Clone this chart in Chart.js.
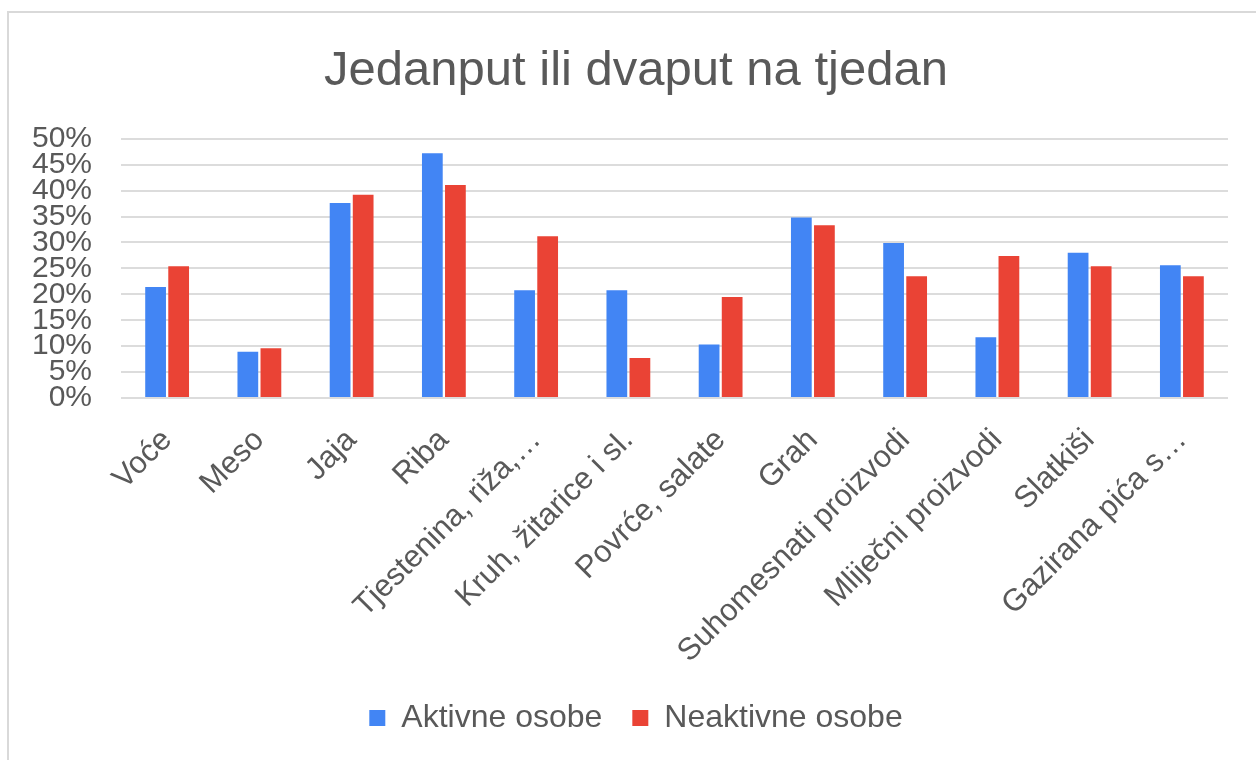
<!DOCTYPE html>
<html>
<head>
<meta charset="utf-8">
<script src="https://cdn.jsdelivr.net/npm/chart.js@4"></script>
<style>
  html, body { margin: 0; padding: 0; background: #fff; overflow: hidden; }
  #frame { position: absolute; left: 7px; top: 11px; width: 1400px; height: 900px; border: 2px solid #d9d9d9; }
  #wrap { position: absolute; left: 0; top: 0; width: 1256px; height: 760px; }
</style>
</head>
<body>
<div id="frame"></div>
<div id="wrap"><canvas id="bar-chart" width="1256" height="760"></canvas></div>
<script>
// categories (labels as shown, truncated ones kept as in the picture)
var categories = ["Voće", "Meso", "Jaja", "Riba", "Tjestenina, riža,…", "Kruh, žitarice i sl.",
  "Povrće, salate", "Grah", "Suhomesnati proizvodi", "Mliječni proizvodi", "Slatkiši", "Gazirana pića s…"];

// share of people, in percent
var aktivne = [21.4, 8.9, 37.6, 47.2, 20.8, 20.8, 10.3, 34.8, 29.9, 11.7, 28.0, 25.6];
var neaktivne = [25.4, 9.6, 39.2, 41.1, 31.2, 7.7, 19.5, 33.3, 23.5, 27.4, 25.4, 23.5];

var seriesNames = ["Aktivne osobe", "Neaktivne osobe"];
var yTicks = [0, 5, 10, 15, 20, 25, 30, 35, 40, 45, 50];

var textColor = "#595959";
var fontFamily = "'Liberation Sans', Arial, sans-serif";

const dataset = {
  labels: categories,
  datasets: [
    {
      label: seriesNames[0],
      data: aktivne,
      backgroundColor: "#4285F4",
      borderWidth: 0,
      categoryPercentage: 0.5,
      barPercentage: 0.9,
    }, {
      label: seriesNames[1],
      data: neaktivne,
      backgroundColor: "#EA4335",
      borderWidth: 0,
      categoryPercentage: 0.5,
      barPercentage: 0.9,
    }
  ],
};

const config = {
  type: "bar",
  data: dataset,
  options: {
    responsive: false,
    animation: false,
    layout: {
      padding: { left: 16, right: 0, top: 0, bottom: 16 },
    },
    plugins: {
      title: {
        display: true,
        text: "Jedanput ili dvaput na tjedan",
        color: textColor,
        font: { family: fontFamily, size: 49, weight: "normal" },
        padding: { top: 42, bottom: 38 },
      },
      legend: {
        position: "bottom",
        labels: {
          color: textColor,
          font: { family: fontFamily, size: 32 },
          boxWidth: 16,
          boxHeight: 16,
          padding: 30,
        },
      },
      tooltip: { enabled: false },
    },
    scales: {
      x: {
        afterFit: function (scale) { scale.height = 274; },
        grid: { display: false, drawTicks: false },
        border: { display: false },
        ticks: {
          color: textColor,
          font: { family: fontFamily, size: 31 },
          minRotation: 45,
          maxRotation: 45,
          autoSkip: false,
          padding: 24,
        },
      },
      y: {
        min: 0,
        max: 50,
        afterFit: function (scale) { scale.width = 105; },
        afterBuildTicks: function (scale) {
          scale.ticks = yTicks.map(function (v) { return { value: v }; });
        },
        grid: { color: "#dcdcdc", lineWidth: 2, drawTicks: false },
        border: { display: false },
        ticks: {
          color: textColor,
          font: { family: fontFamily, size: 30 },
          autoSkip: false,
          padding: 29,
          callback: function (v) { return v + "%"; },
        },
      },
      // empty axis on the right, only keeps the right margin of the plot
      yRight: {
        position: "right",
        afterFit: function (scale) { scale.width = 28; },
        grid: { display: false, drawTicks: false },
        border: { display: false },
        ticks: { display: false },
      },
    },
  },
};

var barChart = new Chart(document.getElementById("bar-chart").getContext("2d"), config);
</script>
</body>
</html>
